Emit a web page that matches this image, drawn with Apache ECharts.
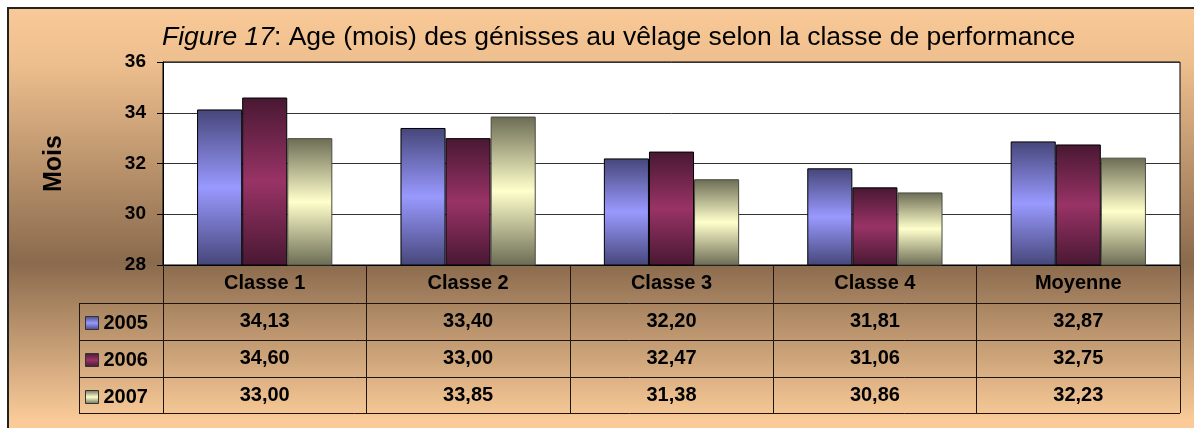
<!DOCTYPE html>
<html>
<head>
<meta charset="utf-8">
<script src="https://cdn.jsdelivr.net/npm/echarts@6/dist/echarts.min.js"></script>
<style>
  html, body { margin: 0; padding: 0; background: #fff; }
  #chart { width: 1194px; height: 428px; }
</style>
</head>
<body>
<div id="chart"></div>
<script>
// Age au vêlage (mois) par classe de performance
const categories = ['Classe 1', 'Classe 2', 'Classe 3', 'Classe 4', 'Moyenne'];
const years = ['2005', '2006', '2007'];
const values2005 = [34.13, 33.40, 32.20, 31.81, 32.87];
const values2006 = [34.60, 33.00, 32.47, 31.06, 32.75];
const values2007 = [33.00, 33.85, 31.38, 30.86, 32.23];
const yTicks = { min: 28, max: 36, step: 2 };

const FONT = "'Liberation Sans', Arial, sans-serif";
const fmt = v => v.toFixed(2).replace('.', ',');

// plot + table geometry (pixels)
const G = { left: 163, right: 1180, top: 62, bottom: 265 };
const rowLines = [303, 340, 377, 413];
const legendLeft = 79;

function vGrad(edge, mid) {
  return new echarts.graphic.LinearGradient(0, 0, 0, 1, [
    { offset: 0, color: edge },
    { offset: 0.5, color: mid },
    { offset: 1, color: edge }
  ]);
}

const seriesDefs = [
  { name: years[0], data: values2005, color: vGrad('#46467a', '#9999ff'), border: '#000' },
  { name: years[1], data: values2006, color: vGrad('#481832', '#993366'), border: '#000' },
  { name: years[2], data: values2007, color: vGrad('#6c6c55', '#ffffcc'), border: '#4a4a40' }
];

function tableAxis(arr, margin) {
  return {
    type: 'category',
    data: categories,
    gridIndex: 0,
    position: 'bottom',
    axisLine: { show: false },
    axisTick: { show: false },
    splitLine: { show: false },
    axisLabel: {
      interval: 0,
      margin: margin,
      verticalAlign: 'middle',
      fontFamily: FONT, fontSize: 20, fontWeight: 'bold', color: '#000',
      formatter: (val, idx) => fmt(arr[idx])
    }
  };
}

const tableLines = [];
rowLines.forEach(y => {
  tableLines.push({
    type: 'line', silent: true, z: 5,
    shape: { x1: legendLeft, y1: y + 0.5, x2: G.right, y2: y + 0.5 },
    style: { stroke: '#1e160e', lineWidth: 1 }
  });
});
tableLines.push({
  type: 'line', silent: true, z: 5,
  shape: { x1: legendLeft + 0.5, y1: rowLines[0], x2: legendLeft + 0.5, y2: rowLines[rowLines.length - 1] + 1 },
  style: { stroke: '#1e160e', lineWidth: 1 }
});

const option = {
  animation: false,
  graphic: [
    {
      type: 'rect', silent: true, z: -10,
      shape: { x: 8, y: 8, width: 1192, height: 424 },
      style: {
        fill: {
          type: 'linear', x: 0, y: 0, x2: 0, y2: 1,
          colorStops: [
            { offset: 0, color: '#f9c997' },
            { offset: 0.13, color: '#eebf8e' },
            { offset: 0.6, color: '#8a6a4d' },
            { offset: 0.97, color: '#facb98' },
            { offset: 1, color: '#fbcc99' }
          ]
        },
        stroke: '#222', lineWidth: 2
      }
    }
  ].concat(tableLines),
  title: {
    left: 157, top: 19,
    text: '{i|Figure 17}{n|: Age (mois) des génisses au vêlage selon la classe de performance}',
    textStyle: {
      fontWeight: 'normal',
      rich: {
        i: { fontFamily: FONT, fontSize: 26.5, fontStyle: 'italic', fontWeight: 'normal', color: '#000' },
        n: { fontFamily: FONT, fontSize: 26.5, fontWeight: 'normal', color: '#000' }
      }
    }
  },
  legend: {
    orient: 'vertical',
    left: 80, top: 308,
    itemWidth: 13, itemHeight: 13, itemGap: 17,
    icon: 'rect',
    data: years,
    itemStyle: { borderColor: '#333', borderWidth: 1 },
    textStyle: { fontFamily: FONT, fontSize: 20, fontWeight: 'bold', color: '#000', padding: [0, 0, 0, 0] }
  },
  grid: {
    left: G.left, right: 1194 - G.right, top: G.top, bottom: 428 - G.bottom,
    show: true, backgroundColor: '#fff', borderColor: '#000', borderWidth: 1
  },
  xAxis: [
    {
      type: 'category',
      data: categories,
      axisLine: { show: true, lineStyle: { color: '#000', width: 1 } },
      axisTick: { show: true, alignWithLabel: false, length: rowLines[rowLines.length - 1] - G.bottom, lineStyle: { color: '#1e160e' } },
      axisLabel: {
        interval: 0, margin: 18, verticalAlign: 'middle',
        fontFamily: FONT, fontSize: 20, fontWeight: 'bold', color: '#000'
      }
    },
    tableAxis(values2005, 56),
    tableAxis(values2006, 93),
    tableAxis(values2007, 130)
  ],
  yAxis: {
    type: 'value',
    min: yTicks.min, max: yTicks.max, interval: yTicks.step,
    name: 'Mois', nameLocation: 'middle', nameRotate: 90, nameGap: 96,
    nameTextStyle: { fontFamily: FONT, fontSize: 25, fontWeight: 'bold', color: '#000' },
    axisLine: { show: true, lineStyle: { color: '#000' } },
    axisTick: { show: true, length: 6, lineStyle: { color: '#000' } },
    axisLabel: { margin: 17, fontFamily: FONT, fontSize: 19, fontWeight: 'bold', color: '#000' },
    splitLine: { show: true, lineStyle: { color: '#333', width: 1 } }
  },
  series: seriesDefs.map(s => ({
    type: 'bar',
    name: s.name,
    data: s.data,
    xAxisIndex: 0,
    barGap: '0%',
    barCategoryGap: '33.5%',
    itemStyle: { color: s.color, borderColor: s.border, borderWidth: 1 }
  }))
};

const chart = echarts.init(document.getElementById('chart'), null, { renderer: 'canvas' });
chart.setOption(option);
</script>
</body>
</html>
